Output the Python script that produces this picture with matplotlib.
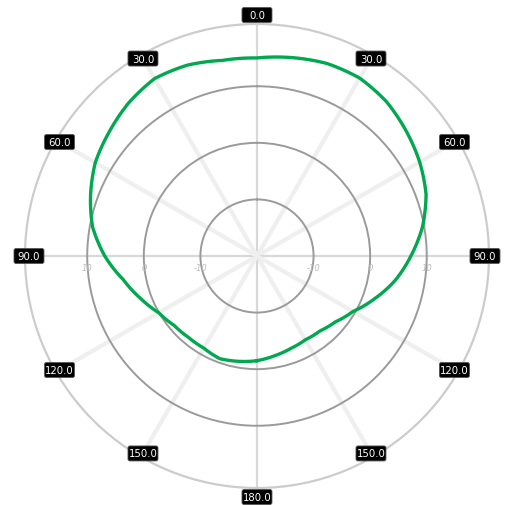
import numpy as np
import matplotlib
matplotlib.use("Agg")
import matplotlib.pyplot as plt
from matplotlib.patches import FancyBboxPatch

# radiation pattern, dB vs angle (clockwise from top)
angles_deg = [-180, -170, -160, -150, -140, -130, -120, -110, -100, -90,
              -80, -70, -60, -50, -40, -30, -20, -10, 0, 10, 20, 30, 40,
              50, 60, 70, 80, 90, 100, 110, 120, 130, 140, 150, 160, 170, 180]
gain_db = [-1.5, -1.1, -0.7, -1.2, -1.2, -0.9, 0.05, 1.9, 4.0, 6.9,
           9.5, 11.3, 13.0, 14.1, 15.3, 16.2, 15.9, 15.1, 15.0, 15.6, 16.2, 16.3, 15.6,
           14.4, 13.2, 11.8, 9.7, 7.2, 4.8, 2.1, -0.4, -1.9, -2.7, -2.9, -2.6, -2.1, -1.5]

angle_ticks = [0, 30, 60, 90, 120, 150, 180, 210, 240, 270, 300, 330]
angle_labels = ["0.0", "30.0", "60.0", "90.0", "120.0", "150.0", "180.0",
                "150.0", "120.0", "90.0", "60.0", "30.0"]
ring_values = [-10, 0, 10]
ring_labels = ["-10", "0", "10"]
r_min, r_max = -20, 21

W, H = 511, 506
fig = plt.figure(figsize=(W / 100, H / 100), dpi=100)
ax = fig.add_axes([0.0489, 0.0336, 0.908, 0.917], projection="polar")
ax.set_theta_zero_location("N")
ax.set_theta_direction(-1)
ax.set_rlim(r_min, r_max)

ax.set_xticks(np.deg2rad(angle_ticks))
ax.set_xticklabels([])
ax.set_yticks(ring_values)
ax.set_yticklabels([])
ax.tick_params(length=0)

ax.yaxis.grid(True, color="#9a9a9a", linewidth=1.4)
ax.xaxis.grid(True)
for t, gl in zip(angle_ticks, ax.xaxis.get_gridlines()):
    if t % 90 == 0:
        gl.set_color("#d8d8d8")
        gl.set_linewidth(1.6)
    else:
        gl.set_color("#efefef")
        gl.set_linewidth(3)
ax.spines["polar"].set_color("#cccccc")
ax.spines["polar"].set_linewidth(1.6)

pattern, = ax.plot(np.deg2rad(angles_deg), gain_db, color="#00a84f",
                   linewidth=2.4, zorder=5, solid_joinstyle="round")
# let the polar transform bend each segment along theta
pattern.get_path()._interpolation_steps = 10

# angle labels: fixed-size black boxes around the outer ring
cx, cy = ax.transData.transform((0, r_min))
ex, ey = ax.transData.transform((0, r_max))
R = ey - cy
bw, bh = 30, 15
for t, lab in zip(angle_ticks, angle_labels):
    rr = R + 9 if t in (0, 180) else R - 4
    px = cx + rr * np.sin(np.deg2rad(t))
    py = cy + rr * np.cos(np.deg2rad(t))
    box = FancyBboxPatch(((px - bw / 2) / W, (py - bh / 2) / H), bw / W, bh / H,
                         boxstyle="round,pad=0,rounding_size=0.004",
                         transform=fig.transFigure, facecolor="black",
                         edgecolor="#555555", linewidth=0.6, zorder=10)
    fig.patches.append(box)
    fig.text(px / W, py / H, lab, ha="center", va="center", fontsize=7.3,
             color="white", zorder=11)

for side in (90, 270):
    for v, lab in zip(ring_values, ring_labels):
        ax.annotate(lab, xy=(np.deg2rad(side), v), xytext=(0, -8),
                    textcoords="offset points", ha="center", va="center",
                    fontsize=6, color="#bbbbbb", style="italic")

fig.savefig("out.png", dpi=100)
